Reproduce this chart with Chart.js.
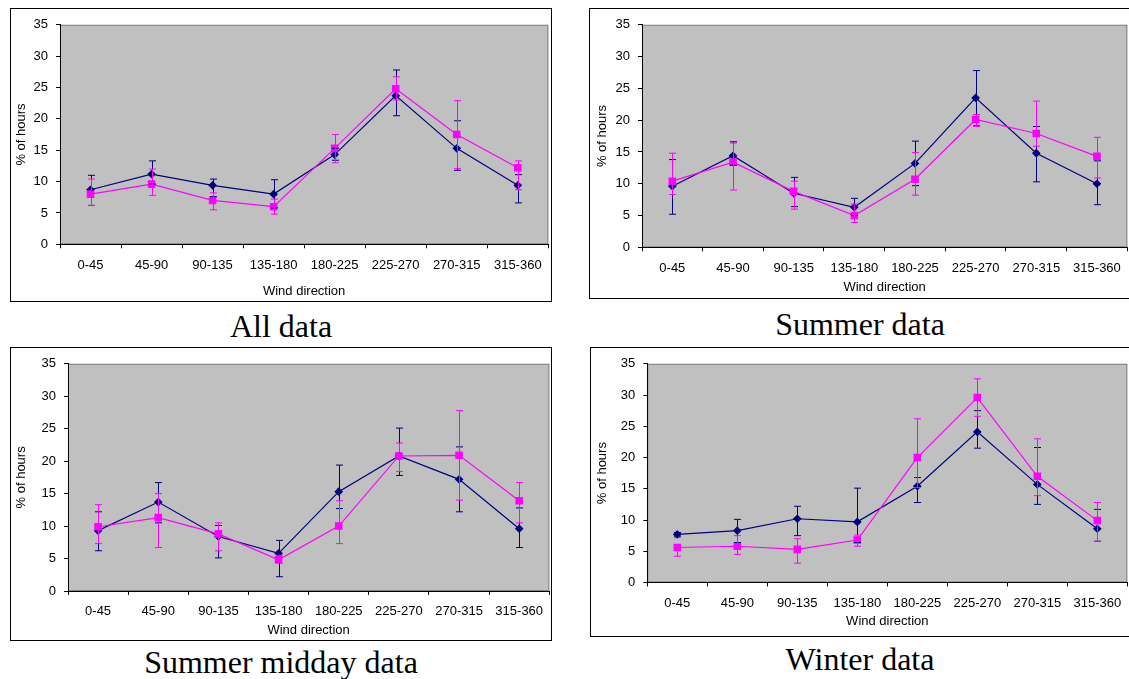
<!DOCTYPE html>
<html>
<head>
<meta charset="utf-8">
<script src="https://cdn.jsdelivr.net/npm/chart.js@4.4.0/dist/chart.umd.min.js"></script>
<style>
body{margin:0;background:#fff;width:1129px;height:679px;overflow:hidden;position:relative;}
.frame{position:absolute;border:1px solid #000;box-sizing:border-box;}
canvas{position:absolute;}
.cap{position:absolute;width:400px;text-align:center;font-family:'Liberation Serif','Times New Roman',serif;font-size:32px;line-height:32px;color:#000;white-space:nowrap;}
</style>
</head>
<body>
<div class="frame" style="left:10px;top:8px;width:542px;height:294px"></div>
<div class="frame" style="left:589px;top:8px;width:545px;height:291px"></div>
<div class="frame" style="left:10px;top:347px;width:542px;height:294px"></div>
<div class="frame" style="left:590px;top:347px;width:545px;height:290px"></div>

<canvas id="cAll" width="543" height="292" style="left:11px;top:9px"></canvas>
<canvas id="cSummer" width="543" height="289" style="left:590px;top:9px"></canvas>
<canvas id="cMidday" width="544" height="292" style="left:11px;top:348px"></canvas>
<canvas id="cWinter" width="542" height="288" style="left:591px;top:348px"></canvas>

<div class="cap" style="left:81px;top:310px">All data</div>
<div class="cap" style="left:660px;top:308px">Summer data</div>
<div class="cap" style="left:81px;top:646px">Summer midday data</div>
<div class="cap" style="left:660px;top:643px">Winter data</div>

<script>
// wind direction sectors
var cats = ["0-45", "45-90", "90-135", "135-180", "180-225", "225-270", "270-315", "315-360"];

// All data
var allNavy   = [8.7, 11.2, 9.4, 8.0, 14.3, 23.7, 15.3, 9.4];
var allNavyLo = [6.2, 9.6, 7.6, 5.8, 13.4, 20.5, 11.8, 6.6];
var allNavyHi = [11.0, 13.3, 10.4, 10.3, 15.3, 27.8, 19.7, 11.1];
var allPink   = [8.0, 9.6, 7.0, 6.0, 15.3, 24.8, 17.5, 12.2];
var allPinkLo = [6.2, 7.8, 5.5, 4.8, 13.0, 23.0, 12.1, 8.7];
var allPinkHi = [10.4, 12.0, 8.2, 7.2, 17.5, 26.7, 22.9, 13.3];

// Summer data
var sumNavy   = [9.6, 14.4, 8.5, 6.3, 13.2, 23.5, 14.8, 10.0];
var sumNavyLo = [5.2, 12.9, 6.4, 5.0, 9.7, 19.1, 10.3, 6.7];
var sumNavyHi = [13.8, 16.6, 11.0, 7.7, 16.7, 27.8, 19.0, 13.6];
var sumPink   = [10.4, 13.4, 8.8, 5.0, 10.7, 20.1, 17.9, 14.3];
var sumPinkLo = [8.3, 9.0, 6.0, 3.9, 8.2, 19.0, 15.9, 10.9];
var sumPinkHi = [14.8, 16.4, 10.4, 6.8, 14.9, 20.9, 23.0, 17.3];

// Summer midday data
var midNavy   = [9.3, 13.7, 8.4, 5.8, 15.3, 20.8, 17.2, 9.6];
var midNavyLo = [6.2, 10.5, 5.1, 2.2, 12.7, 17.8, 12.2, 6.7];
var midNavyHi = [12.2, 16.7, 10.1, 7.8, 19.4, 25.1, 22.2, 12.8];
var midPink   = [9.9, 11.3, 8.8, 4.8, 10.0, 20.8, 20.9, 13.9];
var midPinkLo = [7.3, 6.7, 6.2, 4.3, 7.3, 18.4, 14.0, 10.5];
var midPinkHi = [13.3, 15.0, 10.5, 5.5, 13.9, 22.8, 27.8, 16.7];

// Winter data
var winNavy   = [7.7, 8.3, 10.2, 9.7, 15.4, 24.1, 15.7, 8.6];
var winNavyLo = [7.3, 6.4, 7.5, 6.4, 12.8, 21.5, 12.5, 6.6];
var winNavyHi = [8.0, 10.1, 12.2, 15.1, 16.8, 27.5, 21.6, 11.7];
var winPink   = [5.6, 5.8, 5.3, 6.8, 20.0, 29.6, 17.0, 9.9];
var winPinkLo = [4.2, 4.5, 3.1, 5.8, 15.2, 26.6, 13.9, 6.6];
var winPinkHi = [6.0, 7.5, 7.0, 7.6, 26.2, 32.6, 23.0, 12.8];

var navyColor = "#000080";
var pinkColor = "#ff00ff";

Chart.defaults.font.family = "'Liberation Sans', Arial, sans-serif";
Chart.defaults.font.size = 13;
Chart.defaults.color = "#000";

// gray plot area like excel
var plotBg = {
    id: "plotBg",
    beforeDraw: function(chart){
        var a = chart.chartArea, ctx = chart.ctx;
        ctx.save();
        ctx.fillStyle = "#c0c0c0";
        ctx.fillRect(a.left, a.top, a.right - a.left, a.bottom - a.top);
        ctx.strokeStyle = "#808080";
        ctx.lineWidth = 1;
        ctx.strokeRect(a.left + 0.5, a.top + 0.5, a.right - a.left - 1, a.bottom - a.top - 1);
        ctx.restore();
    }
};

// vertical error bars with caps
var errBars = {
    id: "errBars",
    afterDatasetsDraw: function(chart){
        var ctx = chart.ctx, y = chart.scales.y;
        ctx.save();
        chart.data.datasets.forEach(function(ds, i){
            var meta = chart.getDatasetMeta(i);
            ctx.strokeStyle = ds.borderColor;
            ctx.lineWidth = 1;
            meta.data.forEach(function(pt, j){
                var x = Math.round(pt.x) + 0.5;
                var top = y.getPixelForValue(ds.errHi[j]);
                var bot = y.getPixelForValue(ds.errLo[j]);
                ctx.beginPath();
                ctx.moveTo(x, top); ctx.lineTo(x, bot);
                ctx.moveTo(x - 3.5, top); ctx.lineTo(x + 3.5, top);
                ctx.moveTo(x - 3.5, bot); ctx.lineTo(x + 3.5, bot);
                ctx.stroke();
            });
        });
        ctx.restore();
    }
};

function makeChart(id, navy, navyLo, navyHi, pink, pinkLo, pinkHi, L){
    var ctx = document.getElementById(id);
    return new Chart(ctx, {
        type: "line",
        data: {
            labels: cats,
            datasets: [
                {
                    data: navy, errLo: navyLo, errHi: navyHi,
                    borderColor: navyColor, backgroundColor: navyColor,
                    borderWidth: 1.2, pointStyle: "rectRot", pointRadius: 3.5,
                    tension: 0, order: 1
                },
                {
                    data: pink, errLo: pinkLo, errHi: pinkHi,
                    borderColor: pinkColor, backgroundColor: pinkColor,
                    borderWidth: 1.2, pointStyle: "rect", pointRadius: 4.5,
                    tension: 0, order: 0
                }
            ]
        },
        options: {
            responsive: false,
            animation: false,
            layout: { padding: { top: L.padTop, right: 3, left: 0, bottom: 0 } },
            plugins: { legend: { display: false }, tooltip: { enabled: false } },
            scales: {
                x: {
                    offset: true,
                    grid: { offset: true, drawOnChartArea: false, drawTicks: true, tickLength: 4, color: "#000" },
                    border: { color: "#000", width: 1 },
                    ticks: { padding: L.tickPad, maxRotation: 0, autoSkip: false },
                    title: { display: true, text: "Wind direction", padding: { top: 0, bottom: L.titlePad } },
                    afterFit: function(s){ s.height = L.xH; }
                },
                y: {
                    min: 0, max: 35,
                    ticks: { stepSize: 5, padding: 8 },
                    grid: { drawOnChartArea: false, drawTicks: true, tickLength: 4, color: "#000" },
                    border: { color: "#000", width: 1 },
                    title: { display: true, text: "% of hours", padding: { top: L.yTitlePad, bottom: 0 } },
                    afterFit: function(s){ s.width = L.yW; }
                }
            }
        },
        plugins: [plotBg, errBars]
    });
}

makeChart("cAll", allNavy, allNavyLo, allNavyHi, allPink, allPinkLo, allPinkHi,
    { padTop: 11.7, yW: 49, xH: 56.7, tickPad: 9.6, titlePad: 2.2, yTitlePad: 3 });
makeChart("cSummer", sumNavy, sumNavyLo, sumNavyHi, sumPink, sumPinkLo, sumPinkHi,
    { padTop: 11.7, yW: 52, xH: 50.7, tickPad: 9.6, titlePad: 2.9, yTitlePad: 4.2 });
makeChart("cMidday", midNavy, midNavyLo, midNavyHi, midPink, midPinkLo, midPinkHi,
    { padTop: 12.7, yW: 57, xH: 49, tickPad: 8.2, titlePad: 2.2, yTitlePad: 3 });
makeChart("cWinter", winNavy, winNavyLo, winNavyHi, winPink, winPinkLo, winPinkHi,
    { padTop: 12, yW: 56.3, xH: 53.5, tickPad: 9, titlePad: 6.5, yTitlePad: 3.2 });
</script>
</body>
</html>
